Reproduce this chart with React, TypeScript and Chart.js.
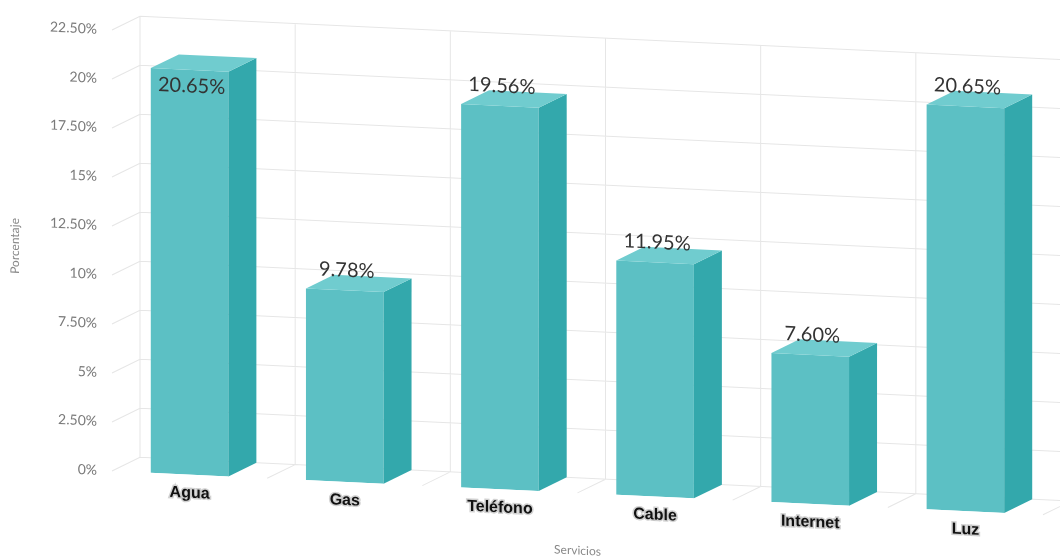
import { useEffect, useRef } from 'react';
import { Chart, registerables } from 'chart.js';

Chart.register(...registerables);

const categories = ['Agua', 'Gas', 'Teléfono', 'Cable', 'Internet', 'Luz'];
const values = [20.65, 9.78, 19.56, 11.95, 7.6, 20.65];
const valueLabels = ['20.65%', '9.78%', '19.56%', '11.95%', '7.60%', '20.65%'];
const yTickLabels = ['0%', '2.50%', '5%', '7.50%', '10%', '12.50%', '15%', '17.50%', '20%', '22.50%'];
const yAxisTitle = 'Porcentaje';
const xAxisTitle = 'Servicios';

const SKEW = 0.047;
const X0 = 112;
const DX = 28;
const DY = -15;
const FRONT = '#5cc0c4';
const SIDE = '#33a8ac';
const TOP = '#70cccf';
const GRID = '#e6e6e6';

const skewPlugin = {
  id: 'skew3d',
  beforeDraw(chart: any) {
    const ctx = chart.ctx;
    ctx.save();
    ctx.transform(1, SKEW, 0, 1, 0, -SKEW * X0);
  },
  afterDraw(chart: any) {
    chart.ctx.restore();
  },
};

const wallPlugin = {
  id: 'wall3d',
  beforeDatasetsDraw(chart: any) {
    const { ctx, chartArea, scales } = chart;
    const { left, right, top, bottom } = chartArea;
    const x = scales.x;
    const y = scales.y;
    ctx.save();
    ctx.strokeStyle = GRID;
    ctx.lineWidth = 1;
    ctx.beginPath();
    y.ticks.forEach((_t: any, i: number) => {
      const py = y.getPixelForTick(i);
      ctx.moveTo(left, py);
      ctx.lineTo(left + DX, py + DY);
      ctx.lineTo(right + DX, py + DY);
    });
    for (let i = 0; i <= categories.length; i++) {
      const bx = x.getPixelForValue(i - 0.5);
      ctx.moveTo(bx + DX, top + DY);
      ctx.lineTo(bx + DX, bottom + DY);
      if (i > 0) {
        ctx.moveTo(bx, bottom);
        ctx.lineTo(bx + DX, bottom + DY);
      }
    }
    ctx.stroke();
    ctx.restore();
  },
};

const facesPlugin = {
  id: 'faces3d',
  afterDatasetsDraw(chart: any) {
    const { ctx } = chart;
    const meta = chart.getDatasetMeta(0);
    ctx.save();
    meta.data.forEach((bar: any, i: number) => {
      const { x: cx, y: ty, base, width } = bar.getProps(['x', 'y', 'base', 'width'], true);
      const xl = cx - width / 2;
      const xr = cx + width / 2;
      ctx.fillStyle = SIDE;
      ctx.beginPath();
      ctx.moveTo(xr, ty);
      ctx.lineTo(xr + DX, ty + DY);
      ctx.lineTo(xr + DX, base + DY);
      ctx.lineTo(xr, base);
      ctx.closePath();
      ctx.fill();
      ctx.fillStyle = TOP;
      ctx.beginPath();
      ctx.moveTo(xl, ty);
      ctx.lineTo(xr, ty);
      ctx.lineTo(xr + DX, ty + DY);
      ctx.lineTo(xl + DX, ty + DY);
      ctx.closePath();
      ctx.fill();

      ctx.font = '20px Lato';
      ctx.fillStyle = '#333333';
      ctx.textAlign = 'center';
      ctx.textBaseline = 'middle';
      const above = ty - 20;
      const screenTop = above - 10 + SKEW * (cx - X0);
      const ly = screenTop < 40 ? ty + 16 : above;
      ctx.fillText(valueLabels[i], cx + 2, ly);
    });
    ctx.restore();
  },
};

export default function App() {
  const ref = useRef<HTMLCanvasElement | null>(null);

  useEffect(() => {
    document.body.style.margin = '0';
    document.body.style.background = '#ffffff';
    if (!ref.current) return;
    Chart.defaults.font.family = 'Lato';
    const chart = new Chart(ref.current, {
      type: 'bar',
      data: {
        labels: categories,
        datasets: [
          {
            data: values,
            backgroundColor: FRONT,
            borderWidth: 0,
            barPercentage: 0.5,
            categoryPercentage: 1,
          },
        ],
      },
      options: {
        responsive: false,
        animation: false,
        layout: { padding: { top: 30, right: 17, left: 0, bottom: 0 } },
        plugins: {
          legend: { display: false },
          tooltip: { enabled: false },
        },
        scales: {
          x: {
            grid: { display: false, drawTicks: false },
            border: { display: false },
            ticks: {
              color: '#111111',
              font: { family: 'Liberation Sans', size: 16, weight: 'bold' },
              padding: 9,
              textStrokeColor: 'rgba(190,190,190,0.7)',
              textStrokeWidth: 3,
              maxRotation: 0,
            },
            title: {
              display: true,
              text: xAxisTitle,
              color: '#888888',
              font: { size: 12 },
              padding: { top: 4, bottom: 22 },
            },
            afterFit(s: any) {
              s.height = 87;
            },
          },
          y: {
            min: 0,
            max: 22.5,
            grid: { display: false, drawTicks: false },
            border: { display: false },
            ticks: {
              stepSize: 2.5,
              color: '#7a7a7a',
              font: { size: 14 },
              padding: 15,
              callback: (_v: any, i: number) => yTickLabels[i],
            },
            title: {
              display: true,
              text: yAxisTitle,
              color: '#888888',
              font: { size: 12 },
              padding: { top: 8, bottom: 4 },
            },
            afterFit(s: any) {
              s.width = 112;
            },
          },
        },
      },
      plugins: [skewPlugin, wallPlugin, facesPlugin],
    } as any);
    return () => chart.destroy();
  }, []);

  return (
    <div style={{ width: 1060, height: 558 }}>
      <canvas ref={ref} width={1060} height={558} style={{ display: 'block' }} />
    </div>
  );
}
